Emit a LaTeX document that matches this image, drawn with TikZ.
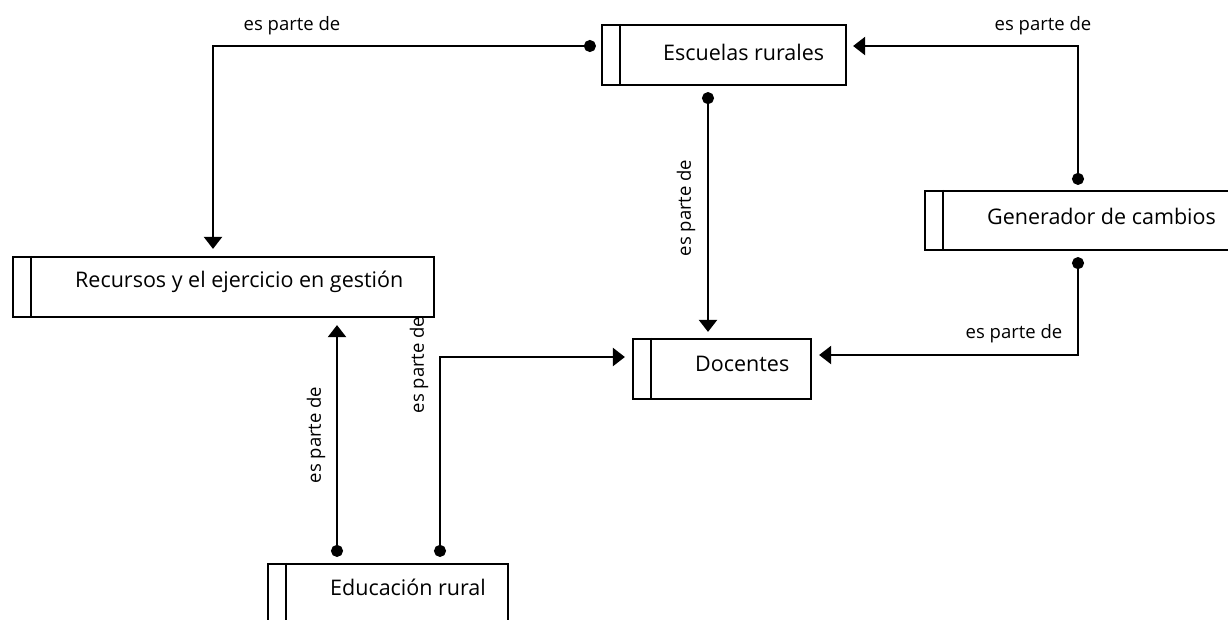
\documentclass[tikz,border=0pt]{standalone}
\usepackage{fontspec}
\setmainfont{Open Sans}
\usetikzlibrary{arrows.meta}
\begin{document}
\begin{tikzpicture}[x=1pt,y=-1pt,
  ent/.style={draw,line width=2.2pt,inner sep=0pt},
  conn/.style={line width=2.2pt,{Circle[length=12pt,width=12pt]}-{Triangle[length=12pt,width=18pt]}},
  lbl/.style={font=\fontsize{18.5}{20}\selectfont,inner sep=0pt},
  btxt/.style={font=\fontsize{21.5}{23}\selectfont,inner sep=0pt,anchor=west}]
\useasboundingbox (0,0) rectangle (1228,619);
\clip (0,0) rectangle (1228,619);
% boxes
\node[ent,minimum width=244pt,minimum height=60pt] (esc) at (724,55) {};
\node[ent,minimum width=330pt,minimum height=59pt] (gen) at (1090,220.5) {};
\node[ent,minimum width=421pt,minimum height=60pt] (rec) at (223.5,287) {};
\node[ent,minimum width=178pt,minimum height=60pt] (doc) at (722,369) {};
\node[ent,minimum width=240pt,minimum height=60pt] (edu) at (388,594) {};
% inner lines
\foreach \n in {esc,gen,rec,doc,edu}{
  \draw[line width=2.2pt] ([xshift=19pt]\n.north west) -- ([xshift=19pt]\n.south west);
}
% texts
\node[btxt] (tesc) at (663,52) {Escuelas rurales};
\node[btxt] (tgen) at (987,216) {Generador de cambios};
\node[btxt] (trec) at (75,282) {Recursos y el ejercicio en gestión};
\node[btxt] (tdoc) at (695,364) {Docentes};
\node[btxt] (tedu) at (330,587) {Educación rural};
% connectors
\draw[conn] ([xshift=-5pt,yshift=9pt]esc.west) -| ([xshift=-10.5pt,yshift=7pt]rec.north);
\draw[conn] ([xshift=-16pt,yshift=-6pt]esc.south) -- ([xshift=-14pt,yshift=6pt]doc.north);
\draw[conn] ([xshift=-12pt,yshift=5pt]gen.north) |- ([xshift=6pt,yshift=9pt]esc.east);
\draw[conn] ([xshift=-12pt,yshift=-6pt]gen.south) |- ([xshift=7pt,yshift=14pt]doc.east);
\draw[conn] ([xshift=-51pt,yshift=6pt]edu.north) -- ([xshift=113.5pt,yshift=-7pt]rec.south);
\draw[conn] ([xshift=52pt,yshift=6pt]edu.north) |- ([xshift=-7pt,yshift=12pt]doc.west);
% labels
\node[lbl] (l1) at (292,26) {es parte de};
\node[lbl] (l3) at (1043,26) {es parte de};
\node[lbl] (l4) at (1014,334) {es parte de};
\node[lbl,rotate=90] (l2) at (686,208) {es parte de};
\node[lbl,rotate=90] (l5) at (316,435) {es parte de};
\node[lbl,rotate=90] (l6) at (419,365) {es parte de};
\end{tikzpicture}
\end{document}
